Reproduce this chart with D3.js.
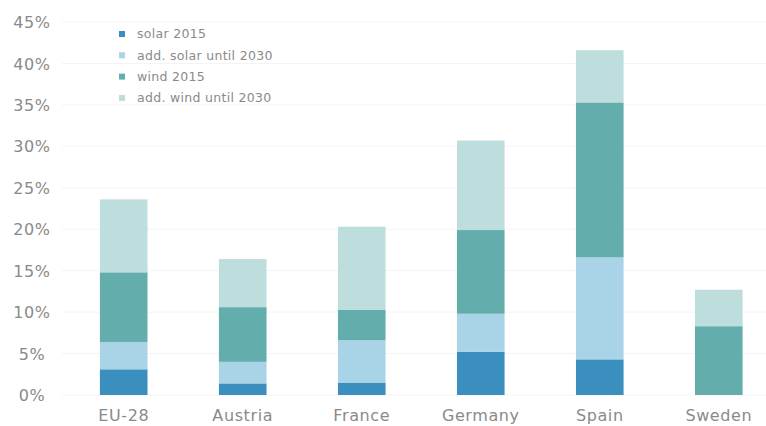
<!DOCTYPE html>
<html>
<head>
<meta charset="utf-8">
<script src="https://cdn.jsdelivr.net/npm/d3@7"></script>
<style>
  html, body { margin: 0; padding: 0; background: #ffffff; }
  svg { display: block; }
  text { font-family: "DejaVu Sans", sans-serif; fill: #858585; }
</style>
</head>
<body>
<svg id="chart" width="766" height="426"></svg>
<script>
// Shares of electricity from solar and wind, 2015 and added by 2030 (%)
const countries = ["EU-28", "Austria", "France", "Germany", "Spain", "Sweden"];
const seriesNames = ["solar 2015", "add. solar until 2030", "wind 2015", "add. wind until 2030"];
const solar2015 = [3.1, 1.4, 1.5, 5.2, 4.3, 0];
const addSolar2030 = [3.3, 2.6, 5.1, 4.6, 12.3, 0];
const wind2015 = [8.4, 6.6, 3.7, 10.1, 18.7, 8.3];
const addWind2030 = [8.8, 5.8, 10.0, 10.8, 6.3, 4.4];
const yTicks = [0, 5, 10, 15, 20, 25, 30, 35, 40, 45];
const colors = ["#3b8fbf", "#a9d3e6", "#63adac", "#bddedd"];

const rows = countries.map((c, i) => ({
  country: c,
  [seriesNames[0]]: solar2015[i],
  [seriesNames[1]]: addSolar2030[i],
  [seriesNames[2]]: wind2015[i],
  [seriesNames[3]]: addWind2030[i]
}));

const svg = d3.select("#chart");

const x = d3.scaleBand()
  .domain(countries)
  .range([88, 754.5])
  .paddingInner(0.6)
  .paddingOuter(0.1);

const y = d3.scaleLinear()
  .domain([0, 45])
  .range([395, 22]);

const color = d3.scaleOrdinal().domain(seriesNames).range(colors);

const labelStyle = sel => sel
  .style("font-family", "'DejaVu Sans', sans-serif")
  .style("font-weight", "400")
  .style("fill", "#8a8a8a");

// horizontal gridlines
svg.append("g")
  .selectAll("line")
  .data(yTicks)
  .join("line")
  .attr("x1", 62)
  .attr("x2", 766)
  .attr("y1", d => y(d))
  .attr("y2", d => y(d))
  .attr("stroke", "#f4f4f4")
  .attr("stroke-width", 1);

// y axis labels
const yAxis = d3.axisLeft(y)
  .tickValues(yTicks)
  .tickFormat(d => d + "%")
  .tickSize(0);
const yg = svg.append("g").attr("transform", "translate(32,0)").call(yAxis);
yg.select(".domain").remove();
yg.selectAll("text")
  .attr("x", 0)
  .attr("text-anchor", "middle")
  .attr("dy", "0.35em")
  .style("font-size", "16px")
  .style("letter-spacing", "0.6px")
  .call(labelStyle);

// stacked bars
const stack = d3.stack().keys(seriesNames);
const layers = stack(rows);

svg.append("g")
  .selectAll("g")
  .data(layers)
  .join("g")
  .attr("fill", d => color(d.key))
  .selectAll("rect")
  .data(d => d)
  .join("rect")
  .attr("x", d => x(d.data.country))
  .attr("width", x.bandwidth())
  .attr("y", d => y(d[1]))
  .attr("height", d => y(d[0]) - y(d[1]));

// x axis labels
const xAxis = d3.axisBottom(x).tickSize(0);
const xg = svg.append("g").attr("transform", `translate(0,${y(0)})`).call(xAxis);
xg.select(".domain").remove();
xg.selectAll("text")
  .attr("y", 20)
  .attr("dy", "0.35em")
  .style("font-size", "16px")
  .style("letter-spacing", "0.6px")
  .call(labelStyle);

// legend
const legend = svg.append("g").attr("transform", "translate(119,34)");
const item = legend.selectAll("g")
  .data(seriesNames)
  .join("g")
  .attr("transform", (d, i) => `translate(0,${i * 21.3})`);
item.append("rect")
  .attr("x", 0)
  .attr("y", -3)
  .attr("width", 6)
  .attr("height", 6)
  .attr("fill", d => color(d));
item.append("text")
  .attr("x", 18)
  .attr("y", 0)
  .attr("dy", "0.35em")
  .style("font-size", "12.5px")
  .style("letter-spacing", "0.3px")
  .call(labelStyle)
  .text(d => d);
</script>
</body>
</html>
